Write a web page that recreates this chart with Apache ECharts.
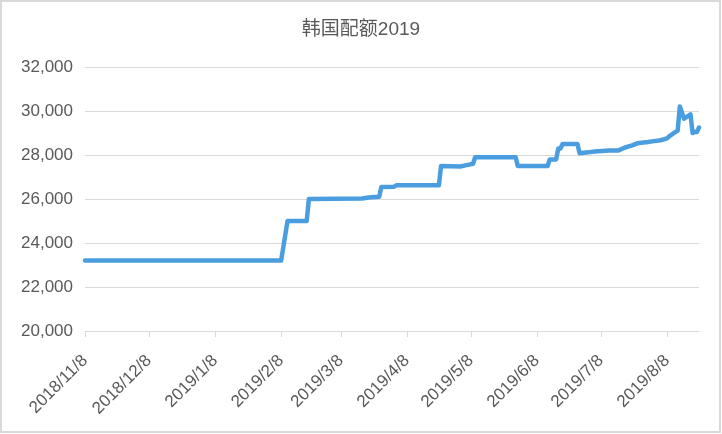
<!DOCTYPE html>
<html>
<head>
<meta charset="utf-8">
<script src="https://cdn.jsdelivr.net/npm/echarts@6/dist/echarts.min.js"></script>
<style>
html,body{margin:0;padding:0;background:#fff;}
#chart{width:722px;height:434px;}
</style>
</head>
<body>
<div id="chart"></div>
<script>
// Axis range (calendar days)
const startDate = '2018/11/8';
const endDate = '2019/8/23';

const obsDates = [
  '2018/11/8','2019/2/8','2019/2/11','2019/2/20','2019/2/21','2019/3/18','2019/3/21','2019/3/26',
  '2019/3/27','2019/4/2','2019/4/3','2019/4/23','2019/4/24','2019/5/3','2019/5/6','2019/5/9',
  '2019/5/10','2019/5/29','2019/5/30','2019/6/13','2019/6/14','2019/6/17','2019/6/18','2019/6/19',
  '2019/6/20','2019/6/27','2019/6/28','2019/7/2','2019/7/5','2019/7/12','2019/7/16','2019/7/19',
  '2019/7/23','2019/7/25','2019/7/30','2019/8/1','2019/8/5','2019/8/8','2019/8/9','2019/8/12',
  '2019/8/13','2019/8/14','2019/8/16','2019/8/19','2019/8/20','2019/8/21','2019/8/22','2019/8/23'
];
const obsValues = [
  23200, 23200, 25000, 25000, 26000, 26020, 26070, 26100,
  26550, 26560, 26620, 26620, 27500, 27480, 27540, 27600,
  27900, 27900, 27500, 27500, 27800, 27800, 28300, 28300,
  28500, 28500, 28080, 28120, 28160, 28200, 28200, 28330,
  28450, 28530, 28590, 28620, 28670, 28760, 28850, 29050,
  29100, 30200, 29650, 29850, 29000, 29050, 29050, 29250
];

// Y axis ticks
const yMin = 20000, yMax = 32000, yStep = 2000;

function fmt(d){ return d.getFullYear() + '/' + (d.getMonth()+1) + '/' + d.getDate(); }
const categories = [];
{
  const p = startDate.split('/').map(Number), q = endDate.split('/').map(Number);
  let d = new Date(p[0], p[1]-1, p[2]);
  const e = new Date(q[0], q[1]-1, q[2]);
  while (d <= e) { categories.push(fmt(d)); d = new Date(d.getFullYear(), d.getMonth(), d.getDate()+1); }
}
const lookup = {};
obsDates.forEach((k,i)=>{ lookup[k] = obsValues[i]; });
const seriesData = categories.map(c => (c in lookup) ? lookup[c] : null);

const showEighth = (idx, val) => /\/8$/.test(val);
const textColor = '#595959';
const font = "'Liberation Sans', Arial, 'Noto Sans CJK SC', sans-serif";

const chart = echarts.init(document.getElementById('chart'), null, {renderer:'canvas'});
chart.setOption({
  animation: false,
  backgroundColor: '#fff',
  title: {
    text: '韩国配额2019',
    left: 'center',
    top: 15,
    textStyle: { color: textColor, fontSize: 19, fontWeight: 'normal', fontFamily: font }
  },
  grid: { left: 85, right: 23, top: 67, bottom: 103, containLabel: false },
  xAxis: {
    type: 'category',
    data: categories,
    boundaryGap: false,
    axisLine: { lineStyle: { color: '#d9d9d9', width: 1 } },
    axisTick: { show: true, interval: showEighth, length: 6, lineStyle: { color: '#d9d9d9' } },
    axisLabel: {
      interval: showEighth,
      rotate: 45,
      margin: 27,
      color: textColor,
      fontSize: 17,
      fontFamily: font
    },
    splitLine: { show: false }
  },
  yAxis: {
    type: 'value',
    min: yMin, max: yMax, interval: yStep,
    axisLine: { show: false },
    axisTick: { show: false },
    axisLabel: {
      margin: 12,
      color: textColor,
      fontSize: 17,
      fontFamily: font,
      formatter: v => v.toLocaleString('en-US')
    },
    splitLine: { lineStyle: { color: '#d9d9d9', width: 1 } }
  },
  graphic: [{
    type: 'rect',
    shape: { x: 1, y: 1, width: 719, height: 431 },
    style: { fill: 'none', stroke: '#d9d9d9', lineWidth: 2 },
    silent: true
  }],
  series: [{
    type: 'line',
    data: seriesData,
    connectNulls: true,
    showSymbol: false,
    symbol: 'none',
    lineStyle: { color: '#4a9ee0', width: 4.5, join: 'round', cap: 'round' },
    itemStyle: { color: '#4a9ee0' }
  }]
});
</script>
</body>
</html>
